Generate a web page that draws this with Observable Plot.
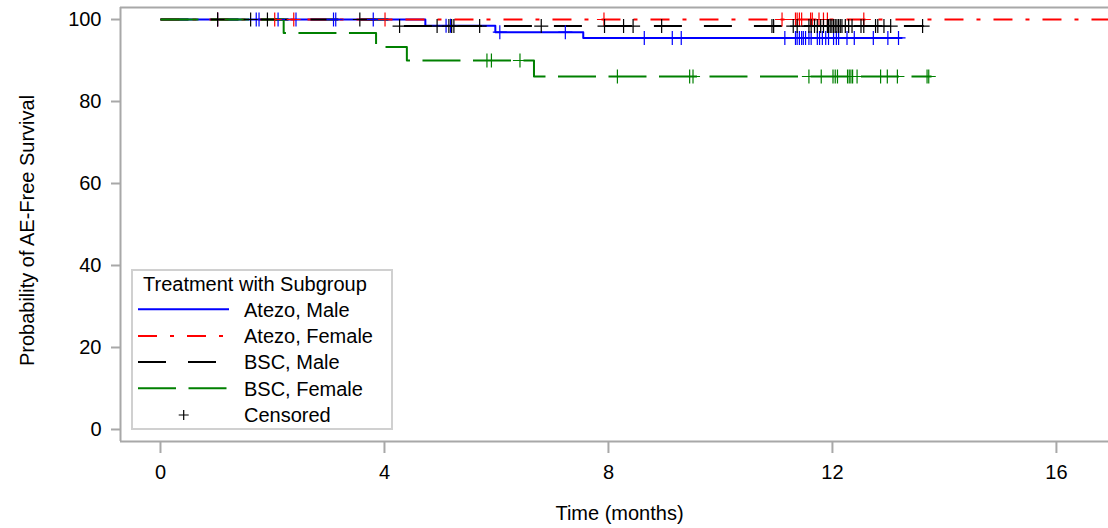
<!DOCTYPE html>
<html><head><meta charset="utf-8">
<script src="https://cdn.jsdelivr.net/npm/d3@7"></script>
<script src="https://cdn.jsdelivr.net/npm/@observablehq/plot@0.6"></script>
<style>
body{margin:0;background:#fff;}
#wrap{position:relative;width:1108px;height:528px;font-family:"Liberation Sans",Arial,sans-serif;}
#legend{position:absolute;left:131px;top:269px;}
</style></head><body><div id="wrap"></div>
<script>
// ---- data ----
const groups = ["Atezo, Male", "Atezo, Female", "BSC, Male", "BSC, Female"];
const legendTitle = "Treatment with Subgroup";
const censoredLabel = "Censored";
const xTicks = [0, 4, 8, 12, 16];
const yTicks = [0, 20, 40, 60, 80, 100];

// Kaplan-Meier step points (time in months, survival %)
const atezoMaleTime = [0, 4.73, 5.98, 7.55, 13.25];
const atezoMaleSurv = [100, 98.5, 96.9, 95.5, 95.5];
const atezoFemaleTime = [0, 16.93];
const atezoFemaleSurv = [100, 100];
const bscMaleTime = [0, 4.16, 13.63];
const bscMaleSurv = [100, 98.4, 98.4];
const bscFemaleTime = [0, 2.2, 3.85, 4.4, 6.67, 13.77];
const bscFemaleSurv = [100, 96.7, 93.3, 90.0, 86.1, 86.1];

// Censoring times
const atezoMaleCens = [1.02, 1.71, 1.76, 2.10, 2.42, 3.09, 3.13, 3.80, 5.10, 5.18, 6.06, 7.23,
  8.64, 9.14, 9.30, 11.15, 11.34, 11.37, 11.41, 11.45, 11.48, 11.52, 11.58, 11.62, 11.73, 11.77,
  11.82, 11.88, 11.93, 12.02, 12.07, 12.11, 12.26, 12.39, 12.73, 12.99, 13.18];
const atezoFemaleCens = [1.02, 2.04, 2.38, 4.01, 7.92, 11.10, 11.34, 11.37, 11.41, 11.45, 11.61,
  11.64, 11.76, 11.84, 11.91, 12.56];
const bscMaleCens = [1.02, 1.61, 1.91, 3.56, 4.27, 4.94, 5.15, 5.20, 5.24, 5.70, 6.80, 7.93, 8.27,
  8.44, 8.95, 10.92, 10.95, 11.30, 11.37, 11.58, 11.62, 11.68, 11.73, 11.79, 11.84, 11.91, 11.93,
  11.96, 11.99, 12.02, 12.05, 12.08, 12.11, 12.14, 12.17, 12.23, 12.29, 12.35, 12.51, 12.56, 12.77,
  12.81, 12.92, 13.04, 13.61];
const bscFemaleCens = [5.83, 5.91, 6.42, 8.16, 9.45, 9.51, 11.58, 11.80, 12.01, 12.05, 12.09, 12.27,
  12.30, 12.33, 12.36, 12.44, 12.86, 12.98, 13.16, 13.69, 13.72];

// ---- styles ----
const colors = ["#0000ff", "#ff0000", "#000000", "#008000"];
const dashes = [null, "19,13,4,13", "28,22", "38,12.5"];
const frameColor = "#a8a8a8";

const series = [
  [atezoMaleTime, atezoMaleSurv, atezoMaleCens],
  [atezoFemaleTime, atezoFemaleSurv, atezoFemaleCens],
  [bscMaleTime, bscMaleSurv, bscMaleCens],
  [bscFemaleTime, bscFemaleSurv, bscFemaleCens]
];

function survAt(times, survs, t) {
  let s = survs[0];
  for (let i = 0; i < times.length; i++) if (times[i] <= t) s = survs[i];
  return s;
}

const xDomain = [-0.714, 16.93];
const yDomain = [-2.93, 102.93];

const marks = [];
series.forEach(([times, survs, cens], i) => {
  const pts = times.map((t, j) => ({t, s: survs[j]}));
  marks.push(Plot.line(pts, {x: "t", y: "s", curve: "step-after", stroke: colors[i],
    strokeWidth: 2, strokeDasharray: dashes[i] || undefined, strokeLinecap: "butt"}));
});
series.forEach(([times, survs, cens], i) => {
  const cpts = cens.map(t => ({t, s: survAt(times, survs, t)}));
  marks.push(Plot.dot(cpts, {x: "t", y: "s", symbol: "plus", r: 4.6, stroke: colors[i], strokeWidth: 1.2}));
});

const chart = Plot.plot({
  width: 1108,
  height: 528,
  marginLeft: 120,
  marginRight: 0,
  marginTop: 7,
  marginBottom: 87,
  style: {fontFamily: '"Liberation Sans", Arial, sans-serif', fontSize: "20px", background: "white", color: "black"},
  x: {domain: xDomain},
  y: {domain: yDomain},
  marks: [
    Plot.axisX({ticks: xTicks, tickSize: 12, tickPadding: 11, label: null, stroke: frameColor, strokeWidth: 2, fill: "black", fontSize: 20}),
    Plot.axisY({ticks: yTicks, tickSize: 9, tickPadding: 10, label: null, stroke: frameColor, strokeWidth: 2, fill: "black", fontSize: 20}),
    Plot.ruleX([xDomain[0]], {stroke: frameColor, strokeWidth: 2}),
    Plot.ruleY([yDomain[0], yDomain[1]], {stroke: frameColor, strokeWidth: 2}),
    ...marks,
    Plot.text(["Time (months)"], {text: d => d, frameAnchor: "bottom", dy: 78, dx: 5, fontSize: 20, fill: "black"}),
    Plot.text(["Probability of AE-Free Survival"], {text: d => d, frameAnchor: "left", textAnchor: "middle", lineAnchor: "middle", rotate: -90, dx: -93, dy: 6, fontSize: 20, fill: "black"})
  ]
});
const wrap = document.getElementById("wrap");
wrap.appendChild(chart);

// ---- legend (overlay inside the plot area) ----
const lw = 262, lh = 161;
const leg = d3.select(wrap).append("svg").attr("id", "legend").attr("width", lw).attr("height", lh)
  .style("font-family", '"Liberation Sans", Arial, sans-serif').style("font-size", "20px");
leg.append("rect").attr("x", 1).attr("y", 1).attr("width", lw - 2).attr("height", lh - 2)
  .attr("fill", "white").attr("stroke", "#d0d0d0").attr("stroke-width", 2);
leg.append("text").attr("x", 12).attr("y", 22).text(legendTitle);
const rowY = [40.3, 67, 93, 119.3, 146];
groups.forEach((g, i) => {
  leg.append("line").attr("x1", 7).attr("x2", 98).attr("y1", rowY[i]).attr("y2", rowY[i])
    .attr("stroke", colors[i]).attr("stroke-width", 2)
    .attr("stroke-dasharray", dashes[i]);
  leg.append("text").attr("x", 113).attr("y", rowY[i] + 7.3).text(g);
});
leg.append("path").attr("d", `M${52.7 - 5},${rowY[4]}h10M52.7,${rowY[4] - 5}v10`)
  .attr("stroke", "black").attr("stroke-width", 1.2).attr("fill", "none");
leg.append("text").attr("x", 113).attr("y", rowY[4] + 7.3).text(censoredLabel);
</script></body></html>
